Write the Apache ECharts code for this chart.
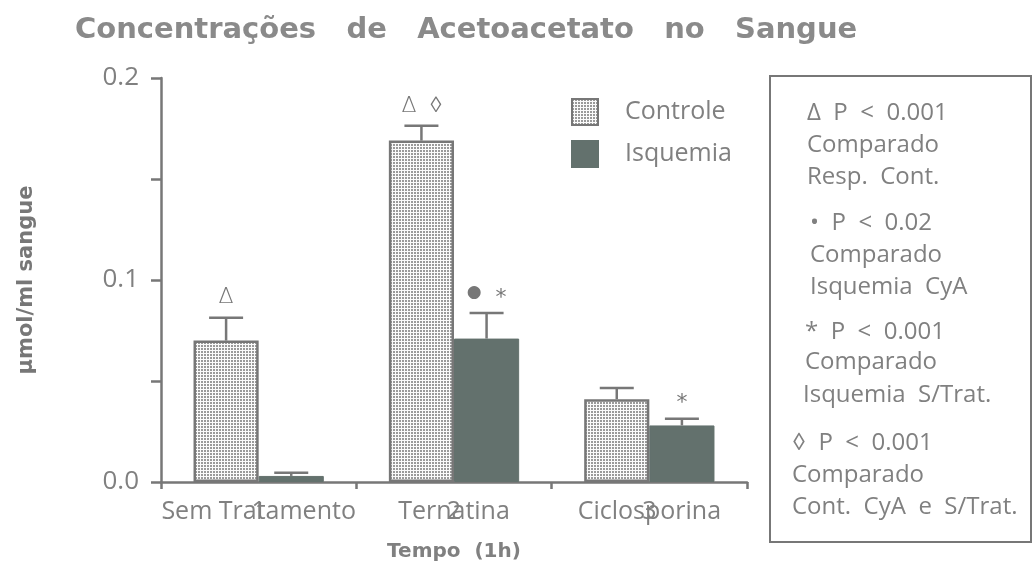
<!DOCTYPE html>
<html><head><meta charset="utf-8">
<script src="https://cdn.jsdelivr.net/npm/echarts@6/dist/echarts.min.js"></script>
<style>html,body{margin:0;padding:0;background:#fff}#c{width:1033px;height:564px}</style>
</head><body><div id="c"></div>
<script>
const categories = ['Sem Tratamento', 'Ternatina', 'Ciclosporina'];
const tickNumbers = ['1', '2', '3'];
const controle = [0.070, 0.169, 0.041];
const controleErr = [0.0113, 0.0073, 0.0055];
const isquemia = [0.003, 0.071, 0.028];
const isquemiaErr = [0.0016, 0.0127, 0.0033];
const controleMarks = ['Δ', 'Δ ◊', ''];
const isquemiaMarks = ['', '● *', '*'];
const yTickValues = [0, 0.1, 0.2];
const yTickLabels = ['0.0', '0.1', '0.2'];
const noteLines = ['Δ  P  <  0.001', 'Comparado', 'Resp.  Cont.',
  '•  P  <  0.02', 'Comparado', 'Isquemia  CyA',
  '*  P  <  0.001', 'Comparado', 'Isquemia  S/Trat.',
  '◊  P  <  0.001', 'Comparado', 'Cont.  CyA  e  S/Trat.'];

const noteX = [807, 807, 807, 810, 810, 810, 805, 805, 803, 792, 792, 792];
const noteY = [113, 145, 177, 223, 255, 287, 332, 362, 395, 443, 475, 507];

const grey = '#777777';
const textGrey = '#808080';
const pat = document.createElement('canvas');
pat.width = 3; pat.height = 3;
const g = pat.getContext('2d');
g.fillStyle = '#fbfbfb'; g.fillRect(0, 0, 3, 3);
g.fillStyle = '#9a9a9a'; g.fillRect(0, 0, 2, 2);
const dotted = { image: pat, repeat: 'repeat' };
const GAP = 0.333;
const sans = "'Open Sans', 'DejaVu Sans', sans-serif";

function markText(m) {
  return m.split(' ').map(c => c === '●' ? '{d|●}' : (c === '*' ? '{s|*}' : '{t|' + c + '}')).join('{t|  }');
}

function errSeries(name, vals, errs, marks, sign) {
  return {
    type: 'custom', name: name, z: 5,
    data: vals.map((v, i) => [i, v, errs[i]]),
    encode: { x: 0, y: 1 },
    renderItem(params, api) {
      const i = api.value(0), v = api.value(1), e = api.value(2);
      const bw = api.size([1, 0])[0];
      const off = sign * bw * (1 - GAP) / 4;
      const b = api.coord([i, v]), t = api.coord([i, v + e]);
      const x = b[0] + off;
      const children = [
        { type: 'line', shape: { x1: x, y1: b[1], x2: x, y2: t[1] }, style: { stroke: grey, lineWidth: 2.5 } },
        { type: 'line', shape: { x1: x - 17, y1: t[1], x2: x + 17, y2: t[1] }, style: { stroke: grey, lineWidth: 2.5 } }
      ];
      const m = marks[params.dataIndex];
      if (m) children.push({ type: 'text', x: x, y: t[1] - 20,
        style: { text: markText(m), align: 'center', verticalAlign: 'middle', fill: grey,
          rich: {
            t: { fontFamily: 'DejaVu Sans', fontSize: 22, fontWeight: 200, color: grey, lineHeight: 26 },
            d: { fontFamily: 'DejaVu Sans', fontSize: 17, color: grey, lineHeight: 26 },
            s: { fontFamily: 'DejaVu Sans', fontSize: 22, color: grey, lineHeight: 26, padding: [10, 0, 0, 0] }
          } } });
      return { type: 'group', children };
    }
  };
}

const chart = echarts.init(document.getElementById('c'));
chart.setOption({
  animation: false,
  backgroundColor: '#fff',
  title: {
    text: 'Concentrações   de   Acetoacetato   no   Sangue',
    left: 70, top: 11,
    textStyle: { fontFamily: 'DejaVu Sans', fontWeight: 'bold', fontSize: 29, color: '#8a8a8a' }
  },
  legend: {
    data: ['Controle', 'Isquemia'],
    orient: 'vertical', left: 566, top: 93,
    itemWidth: 26, itemHeight: 26, itemGap: 14,
    icon: 'rect',
    textStyle: { fontFamily: sans, fontSize: 25, color: textGrey, padding: [0, 0, 0, 22] }
  },
  grid: { left: 161, right: 286, top: 78, bottom: 82, containLabel: false, outerBoundsMode: 'none' },
  xAxis: [{
    type: 'category', data: categories, position: 'bottom',
    axisLine: { lineStyle: { color: grey, width: 2.5 } },
    axisTick: { show: true, length: 7, lineStyle: { color: grey, width: 2.5 } },
    axisLabel: { fontFamily: sans, fontSize: 25, color: textGrey, margin: 17, interval: 0, hideOverlap: false },
    name: 'Tempo  (1h)', nameLocation: 'middle', nameGap: 60,
    nameTextStyle: { fontFamily: 'DejaVu Sans', fontWeight: 'bold', fontSize: 20, color: textGrey }
  }, {
    type: 'category', data: tickNumbers, position: 'bottom',
    axisLine: { show: false }, axisTick: { show: false },
    axisLabel: { fontFamily: sans, fontSize: 25, color: textGrey, margin: 17, interval: 0 }
  }],
  yAxis: {
    type: 'value', min: 0, max: 0.2, interval: 0.05,
    axisLine: { show: true, lineStyle: { color: grey, width: 2.5 } },
    axisTick: { show: true, length: 10, lineStyle: { color: grey, width: 2.5 } },
    splitLine: { show: false },
    axisLabel: {
      fontFamily: sans, fontSize: 26, color: textGrey, margin: 22,
      formatter: v => { const k = yTickValues.findIndex(t => Math.abs(t - v) < 1e-9); return k >= 0 ? yTickLabels[k] : ''; }
    },
    name: 'µmol/ml sangue', nameLocation: 'middle', nameRotate: 90, nameGap: 124,
    nameTextStyle: { fontFamily: 'DejaVu Sans', fontWeight: 'bold', fontSize: 21, color: grey }
  },
  series: [
    { type: 'bar', name: 'Controle', data: controle, barGap: '0%', barCategoryGap: '33.3%',
      itemStyle: { color: dotted, borderColor: grey, borderWidth: 2.5 } },
    { type: 'bar', name: 'Isquemia', data: isquemia,
      itemStyle: { color: '#63716d', borderColor: '#63716d', borderWidth: 1 } },
    errSeries('ControleErr', controle, controleErr, controleMarks, -1),
    errSeries('IsquemiaErr', isquemia, isquemiaErr, isquemiaMarks, 1)
  ],
  graphic: [
    { type: 'rect', shape: { x: 770, y: 76, width: 261, height: 466 }, style: { fill: 'none', stroke: grey, lineWidth: 2 } }
  ].concat(noteLines.map((s, i) => ({
    type: 'text', x: noteX[i], y: noteY[i],
    style: { text: s, fontFamily: sans, fontSize: 24, fill: textGrey, verticalAlign: 'middle' }
  })))
});
</script></body></html>
